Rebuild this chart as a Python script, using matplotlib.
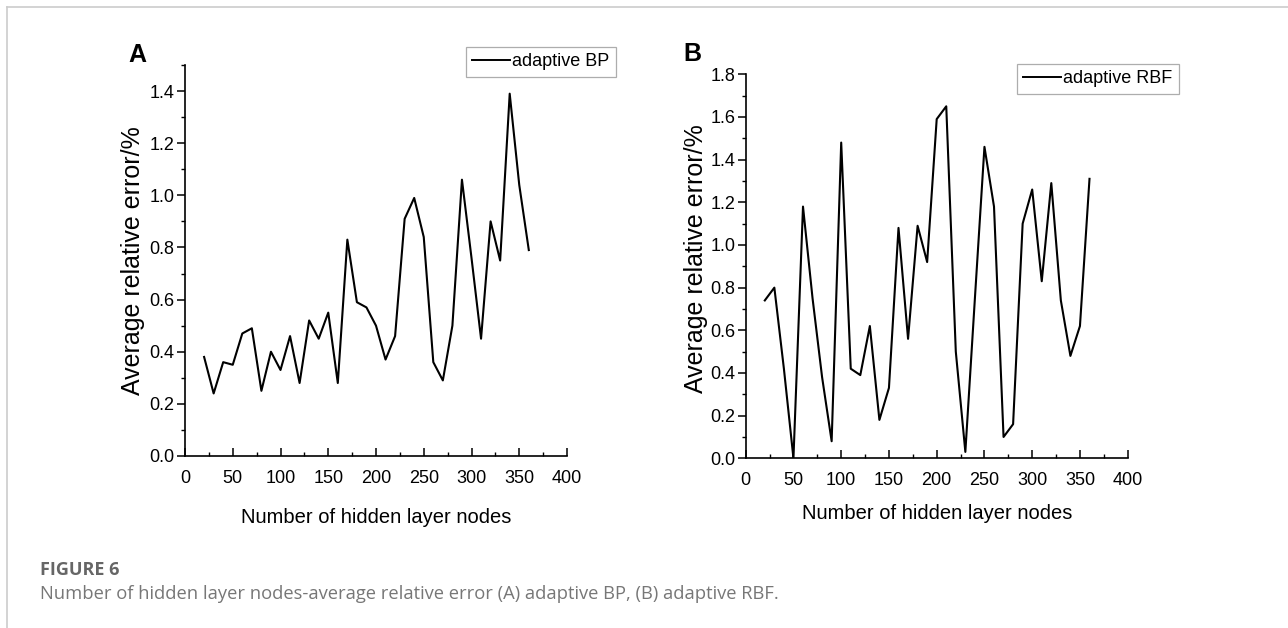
import matplotlib.pyplot as plt
from matplotlib.lines import Line2D
from matplotlib.ticker import MultipleLocator

# Data
nodes = [20, 30, 40, 50, 60, 70, 80, 90, 100, 110, 120, 130, 140, 150, 160, 170, 180,
         190, 200, 210, 220, 230, 240, 250, 260, 270, 280, 290, 300, 310, 320, 330, 340,
         350, 360]
bp_error = [0.38, 0.24, 0.36, 0.35, 0.47, 0.49, 0.25, 0.40, 0.33, 0.46, 0.28, 0.52, 0.45,
            0.55, 0.28, 0.83, 0.59, 0.57, 0.50, 0.37, 0.46, 0.91, 0.99, 0.84, 0.36, 0.29,
            0.50, 1.06, 0.76, 0.45, 0.90, 0.75, 1.39, 1.04, 0.79]
rbf_error = [0.74, 0.80, 0.42, 0.00, 1.18, 0.75, 0.38, 0.08, 1.48, 0.42, 0.39, 0.62, 0.18,
             0.33, 1.08, 0.56, 1.09, 0.92, 1.59, 1.65, 0.50, 0.03, 0.75, 1.46, 1.18, 0.10,
             0.16, 1.10, 1.26, 0.83, 1.29, 0.74, 0.48, 0.62, 1.31]

xlabel = "Number of hidden layer nodes"
ylabel = "Average relative error/%"
caption_title = "FIGURE 6"
caption = "Number of hidden layer nodes-average relative error (A) adaptive BP, (B) adaptive RBF."

plt.rcParams['font.family'] = ['Liberation Sans', 'DejaVu Sans']

W, H = 1288, 628
fig = plt.figure(figsize=(W / 100, H / 100), dpi=100)


def frac(x0, y_top, w, h):
    # pixel box -> figure fraction
    return [x0 / W, 1 - (y_top + h) / H, w / W, h / H]


def setup(ax, y, label, ymax, ytick_step, letter, lx, ly, leg_loc, ylab_x, ylab_y, xlab_y):
    ax.plot(nodes, y, color='black', lw=1.5, label=label)
    ax.set_xlim(0, 400)
    ax.set_ylim(0, ymax)
    ax.xaxis.set_major_locator(MultipleLocator(50))
    ax.xaxis.set_minor_locator(MultipleLocator(25))
    ax.yaxis.set_major_locator(MultipleLocator(ytick_step))
    ax.yaxis.set_minor_locator(MultipleLocator(ytick_step / 2))
    ax.yaxis.set_major_formatter(lambda v, p: f"{v:.1f}")
    for s in ['top', 'right']:
        ax.spines[s].set_visible(False)
    for s in ['left', 'bottom']:
        ax.spines[s].set_linewidth(1.2)
    ax.tick_params(axis='x', which='major', direction='in', length=6, width=1.1,
                   labelsize=13, pad=10)
    ax.tick_params(axis='x', which='minor', direction='in', length=3, width=1.0)
    ax.tick_params(axis='y', which='major', direction='out', length=5.5, width=1.1,
                   labelsize=13, pad=2)
    ax.tick_params(axis='y', which='minor', direction='out', length=3, width=1.0)
    ax.set_xlabel(xlabel, fontsize=14.5, va='top')
    ax.xaxis.set_label_coords(0.5, xlab_y)
    ax.set_ylabel(ylabel, fontsize=18)
    ax.yaxis.set_label_coords(ylab_x, ylab_y)
    leg = ax.legend(handles=[Line2D([], [], color='black', lw=1.4)], labels=[label],
                    loc='upper left', bbox_to_anchor=leg_loc, fontsize=13,
                    frameon=True, fancybox=False, handlelength=2.1, handletextpad=0.1,
                    borderpad=0.35, borderaxespad=0)
    leg.get_frame().set_edgecolor('#999999')
    leg.get_frame().set_linewidth(0.9)
    fig.text(lx / W, 1 - ly / H, letter, fontsize=18, fontweight='bold',
             ha='center', va='center')


ax1 = fig.add_axes(frac(185, 65, 382, 391))
setup(ax1, bp_error, "adaptive BP", 1.5, 0.2, "A", 137, 55,
      ((466 - 185) / 382, (456 - 47) / 391), -0.105, 0.5, -0.133)

ax2 = fig.add_axes(frac(745.7, 74.3, 382, 384))
setup(ax2, rbf_error, "adaptive RBF", 1.8, 0.2, "B", 692, 54,
      ((1017 - 745.7) / 382, (458.3 - 64) / 384), -0.099, 0.52, -0.118)

# page frame (left and top rules)
fig.add_artist(Line2D([7 / W, 1], [1 - 7 / H, 1 - 7 / H], color='#cccccc', lw=1.2))
fig.add_artist(Line2D([7 / W, 7 / W], [0, 1 - 7 / H], color='#cccccc', lw=1.2))

fig.text(40 / W, 1 - 570 / H, caption_title, fontsize=13, fontweight='bold',
         color='#666666', family=['Open Sans', 'DejaVu Sans'], va='center', ha='left')
fig.text(40 / W, 1 - 594 / H, caption, fontsize=13.2, color='#777777',
         family=['Open Sans', 'DejaVu Sans'], va='center', ha='left')

fig.savefig("out.png", dpi=100)
